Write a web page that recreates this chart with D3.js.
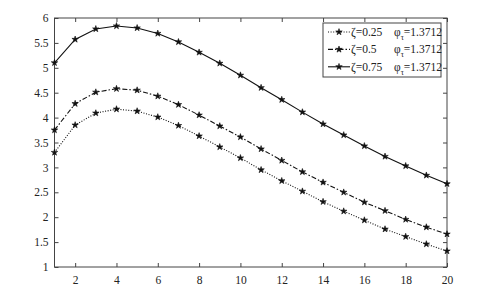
<!DOCTYPE html>
<html>
<head>
<meta charset="utf-8">
<script src="https://cdn.jsdelivr.net/npm/d3@7"></script>
<style>
  body { margin: 0; background: #fff; }
</style>
</head>
<body>
<svg id="chart"></svg>
<script>
// データ
const xs = d3.range(1, 21);
const zeta025 = [3.3, 3.85, 4.09, 4.17, 4.13, 4.01, 3.84, 3.63, 3.41, 3.19, 2.95, 2.73, 2.52, 2.31, 2.12, 1.94, 1.76, 1.61, 1.46, 1.32];
const zeta05  = [3.75, 4.28, 4.51, 4.58, 4.55, 4.43, 4.26, 4.05, 3.83, 3.61, 3.37, 3.14, 2.91, 2.7, 2.5, 2.3, 2.13, 1.955, 1.8, 1.66];
const zeta075 = [5.1, 5.57, 5.78, 5.84, 5.8, 5.69, 5.52, 5.31, 5.09, 4.85, 4.6, 4.36, 4.11, 3.87, 3.65, 3.43, 3.22, 3.03, 2.84, 2.67];
const xTicks = [2, 4, 6, 8, 10, 12, 14, 16, 18, 20];
const yTicks = [1, 1.5, 2, 2.5, 3, 3.5, 4, 4.5, 5, 5.5, 6];
const legendZeta = ['ζ=0.25', 'ζ=0.5', 'ζ=0.75'];
const phiValue = '=1.3712';

const series = [
  {name: legendZeta[0], values: zeta025, dash: '1,1.6'},
  {name: legendZeta[1], values: zeta05, dash: '5,2,1.5,2'},
  {name: legendZeta[2], values: zeta075, dash: null}
];

const width = 504, height = 293;
const margin = {top: 18, right: 57, bottom: 26, left: 54.5};
const innerW = width - margin.left - margin.right;
const innerH = height - margin.top - margin.bottom;
const serif = '"Liberation Serif", "Times New Roman", "DejaVu Serif", serif';

const svg = d3.select('#chart').attr('width', width).attr('height', height);
const chart = svg.append('g').attr('transform', `translate(${margin.left}, ${margin.top})`);

const xscale = d3.scaleLinear().domain([1, 20]).range([0, innerW]);
const yscale = d3.scaleLinear().domain([1, 6]).range([innerH, 0]);

const axisColor = '#444';
const tickLen = 4;

// 軸（目盛りは内向き）
const styleAxis = g => {
  g.attr('font-family', serif);
  g.select('.domain').remove();
  g.selectAll('line').attr('stroke', axisColor);
  g.selectAll('text')
    .attr('font-family', serif)
    .attr('font-size', 11.5)
    .attr('fill', '#222');
};

chart.append('g')
  .attr('transform', `translate(0, ${innerH})`)
  .call(d3.axisBottom(xscale).tickValues(xTicks).tickSize(-tickLen).tickPadding(9).tickFormat(d3.format('d')))
  .call(styleAxis);
chart.append('g')
  .call(d3.axisTop(xscale).tickValues(xTicks).tickSize(-tickLen).tickFormat(''))
  .call(styleAxis);
chart.append('g')
  .call(d3.axisLeft(yscale).tickValues(yTicks).tickSize(-tickLen).tickPadding(6).tickFormat(d3.format('')))
  .call(styleAxis);
chart.append('g')
  .attr('transform', `translate(${innerW}, 0)`)
  .call(d3.axisRight(yscale).tickValues(yTicks).tickSize(-tickLen).tickFormat(''))
  .call(styleAxis);

chart.append('rect')
  .attr('width', innerW).attr('height', innerH)
  .attr('fill', 'none').attr('stroke', axisColor).attr('stroke-width', 1);

// 線
const line = d3.line()
  .x((d, i) => xscale(xs[i]))
  .y(d => yscale(d));

const star = d3.symbol().type(d3.symbolStar).size(13);

series.forEach(s => {
  chart.append('path')
    .datum(s.values)
    .attr('d', line)
    .attr('fill', 'none')
    .attr('stroke', '#111')
    .attr('stroke-width', 1.1)
    .attr('stroke-dasharray', s.dash);
  chart.append('g')
    .selectAll('path')
    .data(s.values)
    .join('path')
    .attr('transform', (d, i) => `translate(${xscale(xs[i])}, ${yscale(d)})`)
    .attr('d', star)
    .attr('fill', '#111')
    .attr('stroke', '#111')
    .attr('stroke-width', 0.6);
});

// 凡例
const legend = svg.append('g').attr('transform', 'translate(323, 23)');
legend.append('rect')
  .attr('width', 118).attr('height', 54)
  .attr('fill', '#fff').attr('stroke', axisColor);

series.forEach((s, i) => {
  const y = 9 + i * 17.4;
  const row = legend.append('g').attr('transform', `translate(0, ${y})`);
  row.append('line')
    .attr('x1', 5).attr('x2', 27).attr('y1', 0).attr('y2', 0)
    .attr('stroke', '#111').attr('stroke-width', 1.1)
    .attr('stroke-dasharray', s.dash);
  row.append('path')
    .attr('transform', 'translate(16, 0)')
    .attr('d', star).attr('fill', '#111')
    .attr('stroke', '#111').attr('stroke-width', 0.6);
  row.append('text')
    .attr('x', 28).attr('y', 4)
    .attr('font-family', serif)
    .attr('font-size', 11.5)
    .attr('fill', '#222')
    .text(s.name);
  const t = row.append('text')
    .attr('x', 71).attr('y', 4)
    .attr('font-family', serif)
    .attr('font-size', 11.5)
    .attr('fill', '#222');
  t.append('tspan').text('φ');
  t.append('tspan').attr('dy', 4).attr('font-size', 8).text('τ');
  t.append('tspan').attr('dy', -4).text(phiValue);
});
</script>
</body>
</html>
